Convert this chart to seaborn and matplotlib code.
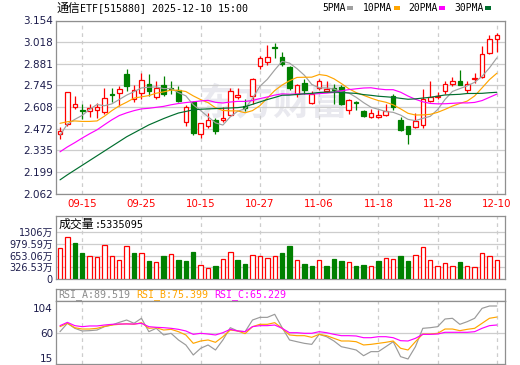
import numpy as np
import pandas as pd
import matplotlib
matplotlib.use("Agg")
import matplotlib.pyplot as plt
import seaborn as sns
from matplotlib.patches import Rectangle

# ---------------- data ----------------
title_name = "通信"
title_rest = "ETF[515880] 2025-12-10 15:00"
holidays = ["2025-10-01", "2025-10-02", "2025-10-03", "2025-10-06", "2025-10-07", "2025-10-08"]
date_ticks = ["09-15", "09-25", "10-15", "10-27", "11-06", "11-18", "11-28", "12-10"]

opens = [2.435, 2.500, 2.610, 2.588, 2.581, 2.587, 2.575, 2.688, 2.696, 2.814,
         2.658, 2.696, 2.756, 2.669, 2.748, 2.730, 2.714, 2.512, 2.637, 2.435,
         2.487, 2.527, 2.527, 2.560, 2.673, 2.612, 2.675, 2.866, 2.891, 2.987,
         2.925, 2.862, 2.692, 2.758, 2.631, 2.725, 2.712, 2.731, 2.735, 2.590,
         2.637, 2.585, 2.548, 2.548, 2.560, 2.679, 2.529, 2.487, 2.481, 2.496,
         2.648, 2.671, 2.706, 2.756, 2.771, 2.716, 2.785, 2.798, 2.946, 3.037]
highs = [2.481, 2.702, 2.675, 2.627, 2.625, 2.633, 2.731, 2.731, 2.741, 2.846,
         2.750, 2.821, 2.819, 2.769, 2.804, 2.770, 2.741, 2.621, 2.648, 2.510,
         2.569, 2.539, 2.606, 2.727, 2.727, 2.658, 2.794, 2.929, 3.002, 3.012,
         2.954, 2.865, 2.752, 2.783, 2.710, 2.783, 2.773, 2.752, 2.746, 2.658,
         2.648, 2.590, 2.596, 2.590, 2.627, 2.689, 2.544, 2.490, 2.569, 2.721,
         2.773, 2.704, 2.773, 2.800, 2.839, 2.773, 2.821, 2.992, 3.064, 3.075]
lows = [2.404, 2.490, 2.596, 2.533, 2.543, 2.540, 2.564, 2.641, 2.612, 2.710,
        2.637, 2.658, 2.679, 2.658, 2.675, 2.690, 2.637, 2.491, 2.429, 2.414,
        2.477, 2.439, 2.512, 2.550, 2.658, 2.585, 2.627, 2.850, 2.873, 2.919,
        2.866, 2.716, 2.669, 2.689, 2.625, 2.716, 2.700, 2.627, 2.621, 2.564,
        2.590, 2.548, 2.537, 2.537, 2.550, 2.592, 2.456, 2.377, 2.477, 2.477,
        2.642, 2.658, 2.689, 2.741, 2.748, 2.698, 2.762, 2.794, 2.940, 2.954]
closes = [2.456, 2.700, 2.625, 2.583, 2.602, 2.608, 2.662, 2.683, 2.721, 2.741,
          2.717, 2.779, 2.706, 2.731, 2.687, 2.720, 2.648, 2.606, 2.446, 2.506,
          2.527, 2.454, 2.537, 2.706, 2.683, 2.604, 2.783, 2.919, 2.925, 2.979,
          2.877, 2.725, 2.746, 2.716, 2.689, 2.769, 2.720, 2.714, 2.627, 2.652,
          2.633, 2.552, 2.569, 2.560, 2.585, 2.606, 2.464, 2.435, 2.519, 2.658,
          2.669, 2.677, 2.756, 2.771, 2.748, 2.756, 2.789, 2.944, 3.037, 3.064]
# volume in 万 (10k shares)
volumes = [857, 1164, 996, 717, 652, 624, 940, 652, 521, 912,
           717, 717, 503, 466, 642, 689, 531, 503, 754, 382,
           298, 363, 549, 745, 531, 419, 661, 652, 596, 642,
           717, 922, 531, 419, 363, 531, 363, 559, 503, 466,
           363, 391, 363, 503, 577, 559, 642, 503, 670, 884,
           531, 363, 438, 363, 475, 363, 326, 717, 642, 533.5]
vol_label = "5335095"

# moving-average values at the start of the window (before enough bars exist)
ma5_head = [2.43, 2.50, 2.53, 2.555]
ma10_head = [2.505, 2.515, 2.52, 2.517, 2.517, 2.52, 2.55, 2.585, 2.615]
ma20_head = [2.325, 2.356, 2.383, 2.412, 2.439, 2.464, 2.496, 2.527, 2.554, 2.571,
             2.585, 2.596, 2.600, 2.606, 2.612, 2.622, 2.630, 2.636, 2.641]
ma30_head = [2.148, 2.18, 2.21, 2.24, 2.27, 2.30, 2.33, 2.36, 2.39, 2.42,
             2.445, 2.47, 2.495, 2.515, 2.535, 2.553, 2.57, 2.58, 2.59, 2.594,
             2.596, 2.598, 2.60, 2.602, 2.604, 2.61, 2.625, 2.64, 2.655]

rsi_a = [56.7, 67.4, 61.0, 57.6, 58.0, 58.8, 63.1, 65.2, 68.6, 71.6,
         67.4, 73.8, 56.7, 61.0, 52.5, 54.6, 46.1, 39.7, 26.9, 35.5,
         39.7, 33.3, 46.1, 61.8, 57.6, 56.7, 71.6, 75.0, 75.0, 78.9,
         61.8, 46.1, 43.9, 41.8, 40.5, 53.3, 50.3, 44.8, 37.5, 35.5,
         33.3, 26.0, 31.2, 31.2, 37.5, 43.9, 24.8, 21.8, 37.5, 61.0,
         61.8, 63.1, 72.9, 73.8, 66.1, 69.5, 73.8, 86.5, 89.5, 89.519]
rsi_b = [63.1, 67.4, 61.8, 60.1, 60.1, 61.0, 63.5, 65.2, 66.1, 66.9,
         66.1, 68.2, 61.0, 61.8, 58.8, 59.7, 56.7, 52.5, 41.8, 44.8,
         46.1, 43.1, 50.3, 58.8, 57.6, 54.2, 63.1, 66.1, 66.1, 68.2,
         61.0, 52.5, 51.6, 51.6, 49.5, 53.3, 51.6, 48.2, 44.8, 44.8,
         43.9, 39.7, 40.5, 41.8, 43.1, 44.8, 35.5, 33.3, 43.9, 53.7,
         53.7, 54.6, 60.1, 60.1, 58.0, 59.7, 61.0, 67.4, 73.8, 75.399]
rsi_c = [64.4, 68.6, 64.4, 63.1, 64.0, 64.0, 65.2, 66.1, 66.5, 66.5,
         66.5, 67.4, 63.1, 62.3, 61.8, 61.0, 59.7, 57.6, 53.3, 54.6,
         53.7, 52.5, 55.4, 59.7, 57.6, 56.7, 63.1, 64.4, 64.4, 65.2,
         61.0, 55.4, 55.4, 54.6, 54.6, 56.7, 55.4, 53.3, 51.6, 51.6,
         51.2, 49.0, 49.0, 50.3, 50.3, 49.0, 45.2, 44.8, 48.2, 53.3,
         53.3, 53.7, 55.9, 55.9, 55.9, 55.9, 56.7, 61.0, 64.4, 65.229]

price_ticks = [3.154, 3.018, 2.881, 2.745, 2.608, 2.472, 2.335, 2.199, 2.062]
vol_ticks = [1306, 979.59, 653.06, 326.53, 0]
vol_tick_labels = ["1306万", "979.59万", "653.06万", "326.53万", "0"]
rsi_tick_labels = ["104", "60", "15"]
rsi_tick_levels = [87.4, 54.6, 22.7]   # where those printed labels sit against the lines

# ---------------- derived ----------------
o = np.array(opens); h = np.array(highs); l = np.array(lows); c = np.array(closes)
n = len(c)
x = np.arange(n)
dates = [d for d in pd.bdate_range("2025-09-10", "2025-12-10") if d.strftime("%Y-%m-%d") not in holidays]
date_str = [d.strftime("%m-%d") for d in dates]
tick_pos = [date_str.index(t) for t in date_ticks]


def moving_avg(head, w):
    s = pd.Series(c).rolling(w).mean().to_numpy()
    s[:w - 1] = head
    return s


ma5 = moving_avg(ma5_head, 5)
ma10 = moving_avg(ma10_head, 10)
ma20 = moving_avg(ma20_head, 20)
ma30 = moving_avg(ma30_head, 30)

RED = "#ff0000"
GREEN = "#008000"
GRAY_LINE = "#a0a0a0"
ORANGE = "#ffa500"
MAGENTA = "#ff00ff"
DKGREEN = "#006e2e"
GRID = "#cdcdcd"
SPINE = "#8f8f8f"
TICKC = "#1c1c4c"

sns.set_theme(style="white")
plt.rcParams["font.family"] = ["DejaVu Sans", "Noto Sans CJK SC"]
plt.rcParams["axes.unicode_minus"] = False

W, H = 520, 365
fig = plt.figure(figsize=(W / 100, H / 100), dpi=100)


def px_axes(left, top, right, bottom):
    return fig.add_axes([left / W, 1 - bottom / H, (right - left) / W, (bottom - top) / H])


L, R = 55.7, 505
XLIM = (-0.58, 60.1)
ax = px_axes(L, 20.5, R, 193.5)
axv = px_axes(L, 215.7, R, 279)
axrt = px_axes(L, 289, R, 301)
axr = px_axes(L, 301, R, 364)

for a in (ax, axv, axrt, axr):
    for sp in a.spines.values():
        sp.set_color(SPINE)
        sp.set_linewidth(0.9)
    a.set_xlim(*XLIM)
    a.tick_params(length=0, pad=2)
    a.set_facecolor("white")

# vertical dashed grid lines
for a in (ax, axv, axr):
    for p in tick_pos:
        a.axvline(p, color=GRID, lw=0.9, ls=(0, (3, 3)), zorder=0.5)

# ---------------- main price panel ----------------
ax.set_ylim(2.062, 3.154)
ax.set_yticks(price_ticks)
ax.set_yticklabels([f"{v:.3f}" for v in price_ticks], color=TICKC, fontsize=7.5)
for v in price_ticks:
    ax.axhline(v, color=GRID, lw=0.9, zorder=0.5)
ax.set_xticks(tick_pos)
ax.set_xticklabels(date_ticks, color=RED, fontsize=7.4)
ax.tick_params(axis="x", pad=4)

ax.text(0.485, 0.52, "东方财富", transform=ax.transAxes, ha="center", va="center",
        fontsize=27, fontweight="bold", color="#e9e9ef", family=["Noto Sans CJK SC"], zorder=0.3)

up = c >= o
cols = np.where(up, RED, GREEN)
ax.vlines(x, l, h, colors=cols, lw=0.9, zorder=2)
body_h = np.maximum(np.abs(c - o), 0.003)
ax.bar(x, body_h, bottom=np.minimum(o, c), width=0.62,
       color=np.where(up, "white", GREEN), edgecolor=cols, linewidth=0.9, zorder=3)

for vals, col in ((ma5, GRAY_LINE), (ma10, ORANGE), (ma20, MAGENTA), (ma30, DKGREEN)):
    sns.lineplot(x=x, y=vals, ax=ax, color=col, linewidth=0.85, legend=False, zorder=4)
ax.set_xlabel(""); ax.set_ylabel("")

# ---------------- volume panel ----------------
prev = np.concatenate([[o[0]], c[:-1]])
vup = c >= prev
vcols = np.where(vup, RED, GREEN)
axv.bar(x, volumes, width=0.6, color=np.where(vup, "white", GREEN), edgecolor=vcols,
        linewidth=0.9, zorder=3)
axv.set_ylim(0, 1770)
axv.set_yticks(vol_ticks)
axv.set_yticklabels(vol_tick_labels, color=TICKC, fontsize=7)
for v in vol_ticks:
    axv.axhline(v, color=GRID, lw=0.9, zorder=0.5)
axv.set_xticks([])
axv.text(2.5 / 449.3, 0.86, "成交量", transform=axv.transAxes, fontsize=8.6,
         family=["Noto Sans CJK SC"], color="black", va="center", ha="left")
axv.text(38.5 / 449.3, 0.86, ":" + vol_label, transform=axv.transAxes, fontsize=7.3,
         family=["DejaVu Sans Mono"], color="black", va="center", ha="left")

# ---------------- RSI panel ----------------
axrt.set_xticks([]); axrt.set_yticks([])
rsi_titles = [("RSI_A:%.3f" % rsi_a[-1], "#8c8c8c", 58), ("RSI_B:%.3f" % rsi_b[-1], ORANGE, 136),
              ("RSI_C:%.3f" % rsi_c[-1], MAGENTA, 214)]
for txt, col, xp in rsi_titles:
    axrt.text((xp - L) / (R - L), 0.5, txt, transform=axrt.transAxes, fontsize=7.2,
              family=["DejaVu Sans Mono"], color=col, va="center", ha="left")

axr.set_ylim(15.4, 95.9)
axr.set_yticks(rsi_tick_levels)
axr.set_yticklabels(rsi_tick_labels, color=TICKC, fontsize=7.5)
axr.axhline(rsi_tick_levels[1], color=GRID, lw=0.9, zorder=0.5)
axr.set_xticks([])
for vals, col in ((rsi_a, "#9a9a9a"), (rsi_b, ORANGE), (rsi_c, MAGENTA)):
    sns.lineplot(x=x, y=vals, ax=axr, color=col, linewidth=0.85, legend=False, zorder=3)
axr.set_xlabel(""); axr.set_ylabel("")
axr.set_xlim(*XLIM)

# ---------------- header ----------------
fig.text(56 / W, 1 - 8 / H, title_name, fontsize=8.6, family=["Noto Sans CJK SC"],
         color="black", va="center", ha="left")
fig.text(80 / W, 1 - 8 / H, title_rest, fontsize=7.2, family=["DejaVu Sans Mono"],
         color="black", va="center", ha="left")
legend_items = [("5PMA", GRAY_LINE, 322), ("10PMA", ORANGE, 363), ("20PMA", MAGENTA, 408), ("30PMA", DKGREEN, 454)]
for lab, col, xp in legend_items:
    fig.text(xp / W, 1 - 8 / H, lab, fontsize=7.0, family=["DejaVu Sans Mono"],
             color="black", va="center", ha="left")
    tw = 5.85 * len(lab)
    fig.patches.append(Rectangle(((xp + tw + 2) / W, 1 - 10 / H), 6 / W, 3.5 / H,
                                 transform=fig.transFigure, facecolor=col, edgecolor="none"))

fig.savefig("out.png", dpi=100, facecolor="white")
